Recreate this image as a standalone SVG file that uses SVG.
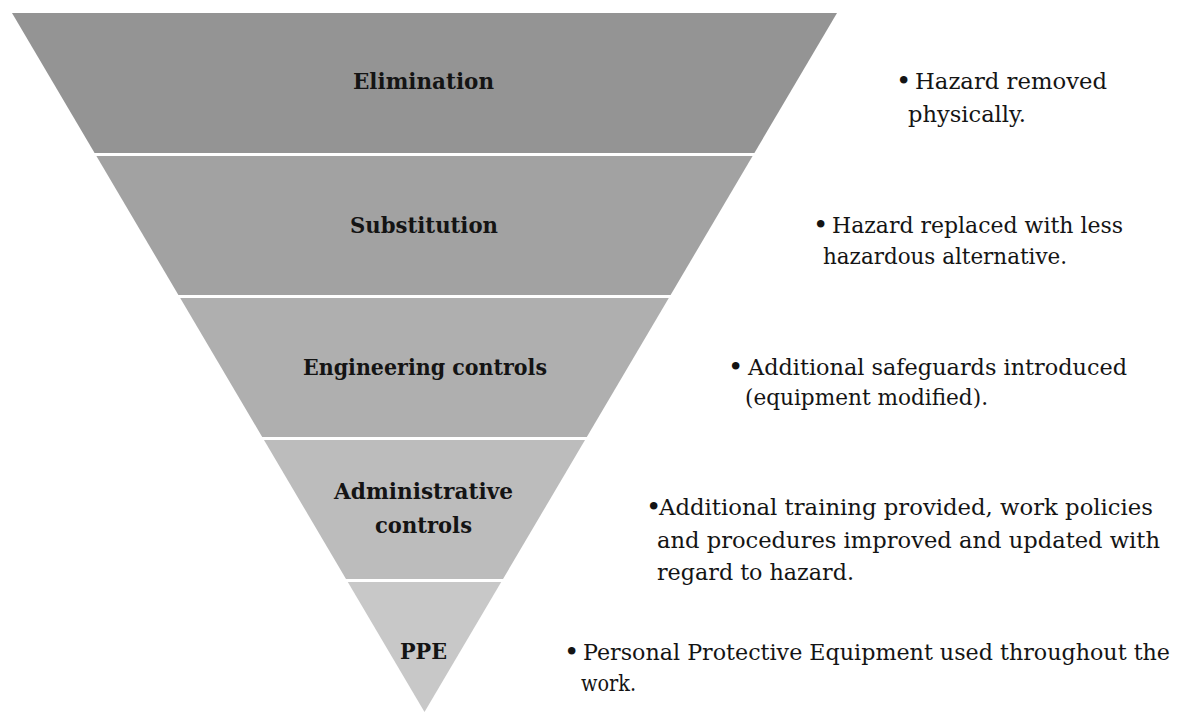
<svg xmlns="http://www.w3.org/2000/svg" width="1177" height="713" viewBox="0 0 1177 713">
<style>
.lbl{font-family:"DejaVu Serif","Liberation Serif",serif;font-weight:bold;font-size:22px;fill:#141414;text-anchor:start}
.desc{font-family:"DejaVu Serif","Liberation Serif",serif;font-size:22px;fill:#141414}
.bul{font-family:"DejaVu Serif","Liberation Serif",serif;font-size:26px;fill:#141414}
</style>
<rect width="1177" height="713" fill="#ffffff"/>
<g id="elimination">
<polygon points="12,13 837,13 754.4,153 94.6,153" fill="#949494"/>
<text class="lbl" x="353" y="89" textLength="141" lengthAdjust="spacingAndGlyphs">Elimination</text>
</g>
<g id="substitution">
<polygon points="96.4,156 752.6,156 670.6,295 178.4,295" fill="#a2a2a2"/>
<text class="lbl" x="350" y="233" textLength="148" lengthAdjust="spacingAndGlyphs">Substitution</text>
</g>
<g id="engineering">
<polygon points="180.2,298 668.8,298 586.8,437 262.2,437" fill="#afafaf"/>
<text class="lbl" x="303" y="375" textLength="244" lengthAdjust="spacingAndGlyphs">Engineering controls</text>
</g>
<g id="administrative">
<polygon points="264,440 585,440 503,579 346,579" fill="#bcbcbc"/>
<text class="lbl" x="334" y="499" textLength="179" lengthAdjust="spacingAndGlyphs">Administrative</text>
<text class="lbl" x="375" y="533" textLength="97" lengthAdjust="spacingAndGlyphs">controls</text>
</g>
<g id="ppe">
<polygon points="347.8,582 501.2,582 424.5,712" fill="#c8c8c8"/>
<text class="lbl" x="400" y="659" textLength="47" lengthAdjust="spacingAndGlyphs">PPE</text>
</g>
<g id="descriptions">
<g id="desc-elimination">
<text class="bul" x="896" y="90">•</text>
<text class="desc" x="915" y="89" textLength="192" lengthAdjust="spacingAndGlyphs">Hazard removed</text>
<text class="desc" x="908" y="122" textLength="118" lengthAdjust="spacingAndGlyphs">physically.</text>
</g>
<g id="desc-substitution">
<text class="bul" x="813" y="234">•</text>
<text class="desc" x="832" y="233" textLength="291" lengthAdjust="spacingAndGlyphs">Hazard replaced with less</text>
<text class="desc" x="823" y="264" textLength="244" lengthAdjust="spacingAndGlyphs">hazardous alternative.</text>
</g>
<g id="desc-engineering">
<text class="bul" x="728" y="376">•</text>
<text class="desc" x="748" y="375" textLength="379" lengthAdjust="spacingAndGlyphs">Additional safeguards introduced</text>
<text class="desc" x="745" y="405" textLength="243" lengthAdjust="spacingAndGlyphs">(equipment modified).</text>
</g>
<g id="desc-administrative">
<text class="bul" x="646" y="516">•</text>
<text class="desc" x="659" y="515" textLength="494" lengthAdjust="spacingAndGlyphs">Additional training provided, work policies</text>
<text class="desc" x="657" y="548" textLength="503" lengthAdjust="spacingAndGlyphs">and procedures improved and updated with</text>
<text class="desc" x="657" y="580" textLength="197" lengthAdjust="spacingAndGlyphs">regard to hazard.</text>
</g>
<g id="desc-ppe">
<text class="bul" x="564" y="661">•</text>
<text class="desc" x="583" y="660" textLength="587" lengthAdjust="spacingAndGlyphs">Personal Protective Equipment used throughout the</text>
<text class="desc" x="581" y="691" textLength="55" lengthAdjust="spacingAndGlyphs">work.</text>
</g>
</g>
</svg>
